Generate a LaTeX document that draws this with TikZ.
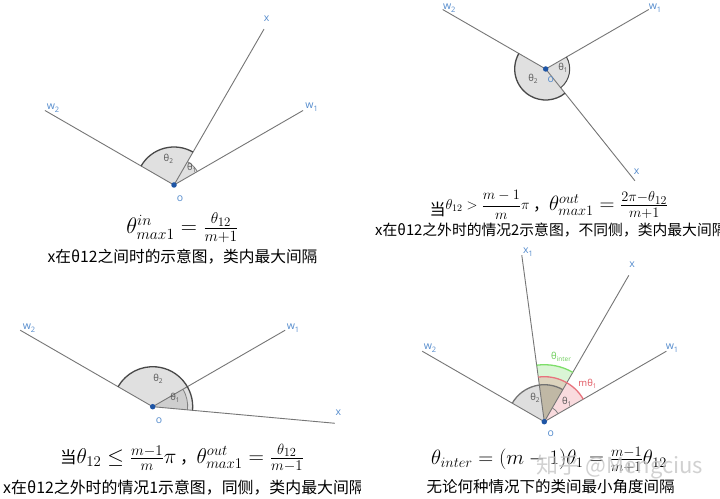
\documentclass[tikz,border=0pt]{standalone}
\usepackage{amsmath}
\usepackage{fontspec}
\newfontfamily\cjk{Noto Sans CJK SC}
\newfontfamily\labfont{Open Sans}
\definecolor{lineg}{RGB}{118,118,118}
\definecolor{labblue}{RGB}{85,140,205}
\definecolor{dotblue}{RGB}{30,85,165}
\definecolor{arcdark}{RGB}{72,72,72}
\definecolor{sectfill}{RGB}{224,224,224}
\definecolor{thetalab}{RGB}{85,85,85}
\definecolor{greenarc}{RGB}{125,222,105}
\definecolor{greenlab}{RGB}{105,205,85}
\definecolor{pinkarc}{RGB}{232,115,125}
\definecolor{pinklab}{RGB}{225,85,95}
\newcommand\vsub[2]{#1\raisebox{-2.5pt}{\fontsize{7.5}{8}\selectfont #2}}
\newcommand\tsub[2]{#1\raisebox{-2pt}{\fontsize{6.5}{7}\selectfont #2}}
\tikzset{
  ray/.style={draw=lineg, line width=0.9pt},
  vlab/.style={text=labblue, font=\labfont\fontsize{10.5}{11}\selectfont, inner sep=0pt},
  tlab/.style={text=thetalab, font=\labfont\fontsize{9.5}{10}\selectfont, inner sep=0pt},
  odot/.style={circle, fill=dotblue, inner sep=0pt, minimum size=5.5pt},
  sector/.style={fill=sectfill},
  sectordark/.style={fill=black, fill opacity=0.08},
  darkarc/.style={draw=arcdark, line width=1.3pt},
  lightarc/.style={draw=gray, line width=0.8pt},
  formula/.style={inner sep=0pt, font=\huge},
  captiontext/.style={inner sep=0pt, font=\cjk\fontsize{15.5}{18}\selectfont},
}
\begin{document}
\begin{tikzpicture}[x=1pt,y=1pt]
\useasboundingbox (0,0) rectangle (720,498);
\clip (0,0) rectangle (720,498);
\fill[white] (0,0) rectangle (720,498);

% ---------------- Panel 1 (top left)
\coordinate (O1) at (174,313);
\path (O1) ++(150:149) coordinate (P1w2);
\path (O1) ++(30:149) coordinate (P1w1);
\path (O1) ++(60:180) coordinate (P1x);
\fill[sector] (O1) -- ++(60:38) arc[start angle=60,end angle=150,radius=38] -- cycle;
\fill[sector] (O1) -- ++(30:27) arc[start angle=30,end angle=60,radius=27] -- cycle;
\draw[ray] (O1) -- (P1w2);
\draw[ray] (O1) -- (P1w1);
\draw[ray] (O1) -- (P1x);
\draw[darkarc] (O1) ++(60:38) arc[start angle=60,end angle=150,radius=38];
\draw[lightarc] (O1) ++(30:27) arc[start angle=30,end angle=60,radius=27];
\node[odot] (dot1) at (O1) {};
\node[vlab] (l1x) at (266.7,479) {x};
\node[vlab] (l1w2) at (53,390) {\vsub{w}{2}};
\node[vlab] (l1w1) at (311.7,391) {\vsub{w}{1}};
\node[vlab] (l1o) at (180,299) {o};
\node[tlab] (l1t2) at (168.3,338.7) {\tsub{θ}{2}};
\node[tlab] (l1t1) at (191.7,330.3) {\tsub{θ}{1}};
\node[formula] (f1) at (182.5,270) {\scalebox{1.08}{$\theta^{in}_{max1} = \frac{\theta_{12}}{m+1}$}};
\node[captiontext, font=\cjk\fontsize{15.7}{18}\selectfont] (c1) at (182.5,241) {x在θ12之间时的示意图，类内最大间隔};

% ---------------- Panel 2 (top right)
\coordinate (O2) at (545.7,429);
\path (O2) ++(150:119) coordinate (P2w2);
\path (O2) ++(30:119) coordinate (P2w1);
\path (O2) ++(-51.4:143) coordinate (P2x);
\fill[sector] (O2) -- ++(150:31) arc[start angle=150,end angle=308.6,radius=31] -- cycle;
\fill[sector] (O2) -- ++(-51.4:24) arc[start angle=-51.4,end angle=30,radius=24] -- cycle;
\draw[ray] (O2) -- (P2w2);
\draw[ray] (O2) -- (P2w1);
\draw[ray] (O2) -- (P2x);
\draw[darkarc] (O2) ++(150:31) arc[start angle=150,end angle=308.6,radius=31];
\draw[darkarc, line width=1pt] (O2) ++(-51.4:24) arc[start angle=-51.4,end angle=30,radius=24];
\node[odot] (dot2) at (O2) {};
\node[vlab] (l2w2) at (449.3,489.7) {\vsub{w}{2}};
\node[vlab] (l2w1) at (655,489.7) {\vsub{w}{1}};
\node[vlab] (l2x) at (636.7,326.3) {x};
\node[vlab] (l2o) at (550.7,418) {o};
\node[tlab] (l2t2) at (533,419) {\tsub{θ}{2}};
\node[tlab] (l2t1) at (563,430) {\tsub{θ}{1}};
\node[formula] (f2) at (548.9,293) {\raisebox{-5pt}{\cjk\fontsize{16}{18}\selectfont 当}\raisebox{1pt}{\Large$\theta_{12} > \dfrac{m-1}{m}\pi$}\,{\cjk\fontsize{16}{18}\selectfont ，}$\theta^{out}_{max1} = \frac{2\pi-\theta_{12}}{m+1}$};
\node[captiontext, anchor=west, font=\cjk\fontsize{14.8}{18}\selectfont] (c2) at (375,268) {x在θ12之外时的情况2示意图，不同侧，类内最大间隔};

% ---------------- Panel 3 (bottom left)
\coordinate (O3) at (152.7,91.3);
\path (O3) ++(150:153) coordinate (P3w2);
\path (O3) ++(30:153) coordinate (P3w1);
\path (O3) ++(-5.2:183) coordinate (P3x);
\fill[sector] (O3) -- ++(-5.2:40) arc[start angle=-5.2,end angle=150,radius=40] -- cycle;
\fill[sectordark] (O3) -- ++(-5.2:35) arc[start angle=-5.2,end angle=30,radius=35] -- cycle;
\draw[ray] (O3) -- (P3w2);
\draw[ray] (O3) -- (P3w1);
\draw[ray] (O3) -- (P3x);
\draw[darkarc] (O3) ++(-5.2:40) arc[start angle=-5.2,end angle=150,radius=40];
\draw[lightarc] (O3) ++(-5.2:35) arc[start angle=-5.2,end angle=30,radius=35];
\node[odot] (dot3) at (O3) {};
\node[vlab] (l3w2) at (29,170) {\vsub{w}{2}};
\node[vlab] (l3w1) at (293,170) {\vsub{w}{1}};
\node[vlab] (l3x) at (338.3,85.3) {x};
\node[vlab] (l3o) at (159,77.3) {o};
\node[tlab] (l3t2) at (158,119) {\tsub{θ}{2}};
\node[tlab] (l3t1) at (175,100) {\tsub{θ}{1}};
\node[formula] (f3) at (182,40) {\scalebox{1.03}{{\cjk\fontsize{16}{18}\selectfont 当}$\theta_{12} \le \frac{m-1}{m}\pi$\,{\cjk\fontsize{16}{18}\selectfont ，}$\theta^{out}_{max1} = \frac{\theta_{12}}{m-1}$}};
\begin{scope}
\clip (0,0) rectangle (360,60);
\node[captiontext, anchor=west, font=\cjk\fontsize{15.9}{18}\selectfont] (c3) at (3,10) {x在θ12之外时的情况1示意图，同侧，类内最大间隔};
\end{scope}

% ---------------- Panel 4 (bottom right)
\coordinate (O4) at (544.3,76.3);
\path (O4) ++(150:141) coordinate (P4w2);
\path (O4) ++(30:141) coordinate (P4w1);
\path (O4) ++(60:169) coordinate (P4x);
\path (O4) ++(97.7:168) coordinate (P4x1);
\fill[greenarc, fill opacity=0.28] (O4) -- ++(60:57) arc[start angle=60,end angle=97.7,radius=57] -- cycle;
\fill[pinkarc, fill opacity=0.25] (O4) -- ++(30:45) arc[start angle=30,end angle=97.7,radius=45] -- cycle;
\fill[black, fill opacity=0.13] (O4) -- ++(60:37) arc[start angle=60,end angle=150,radius=37] -- cycle;
\draw[ray] (O4) -- (P4w2);
\draw[ray] (O4) -- (P4w1);
\draw[ray] (O4) -- (P4x);
\draw[ray] (O4) -- (P4x1);
\draw[draw=greenarc, line width=1.3pt] (O4) ++(60:57) arc[start angle=60,end angle=97.7,radius=57];
\draw[draw=pinkarc, line width=1.3pt] (O4) ++(30:45) arc[start angle=30,end angle=97.7,radius=45];
\draw[darkarc, draw=gray!90!black] (O4) ++(60:37) arc[start angle=60,end angle=150,radius=37];
\draw[lightarc] (O4) ++(30:16) arc[start angle=30,end angle=60,radius=16];
\node[odot] (dot4) at (O4) {};
\node[vlab] (l4x1) at (528,246) {\vsub{x}{1}};
\node[vlab] (l4x) at (632,233) {x};
\node[vlab] (l4w2) at (430,150) {\vsub{w}{2}};
\node[vlab] (l4w1) at (672,150) {\vsub{w}{1}};
\node[vlab] (l4o) at (550.7,64.7) {o};
\node[tlab] (l4t2) at (535,99.7) {\tsub{θ}{2}};
\node[tlab] (l4t1) at (566.7,96.3) {\tsub{θ}{1}};
\node[tlab, text=pinklab] (l4mt) at (587.5,114) {m\tsub{θ}{1}};
\node[tlab, text=greenlab] (l4ti) at (561,141.3) {\tsub{θ}{inter}};
\node[formula] (f4) at (549,38) {$\theta_{inter} = (m-1)\theta_1 = \frac{m-1}{m+1}\theta_{12}$};
\node[inner sep=0pt, text=gray!45, opacity=0.8, font=\cjk\fontsize{22}{24}\selectfont] (wm) at (620,31) {知乎 @Mengcius};
\node[captiontext] (c4) at (550.5,11) {无论何种情况下的类间最小角度间隔};
\end{tikzpicture}
\end{document}
